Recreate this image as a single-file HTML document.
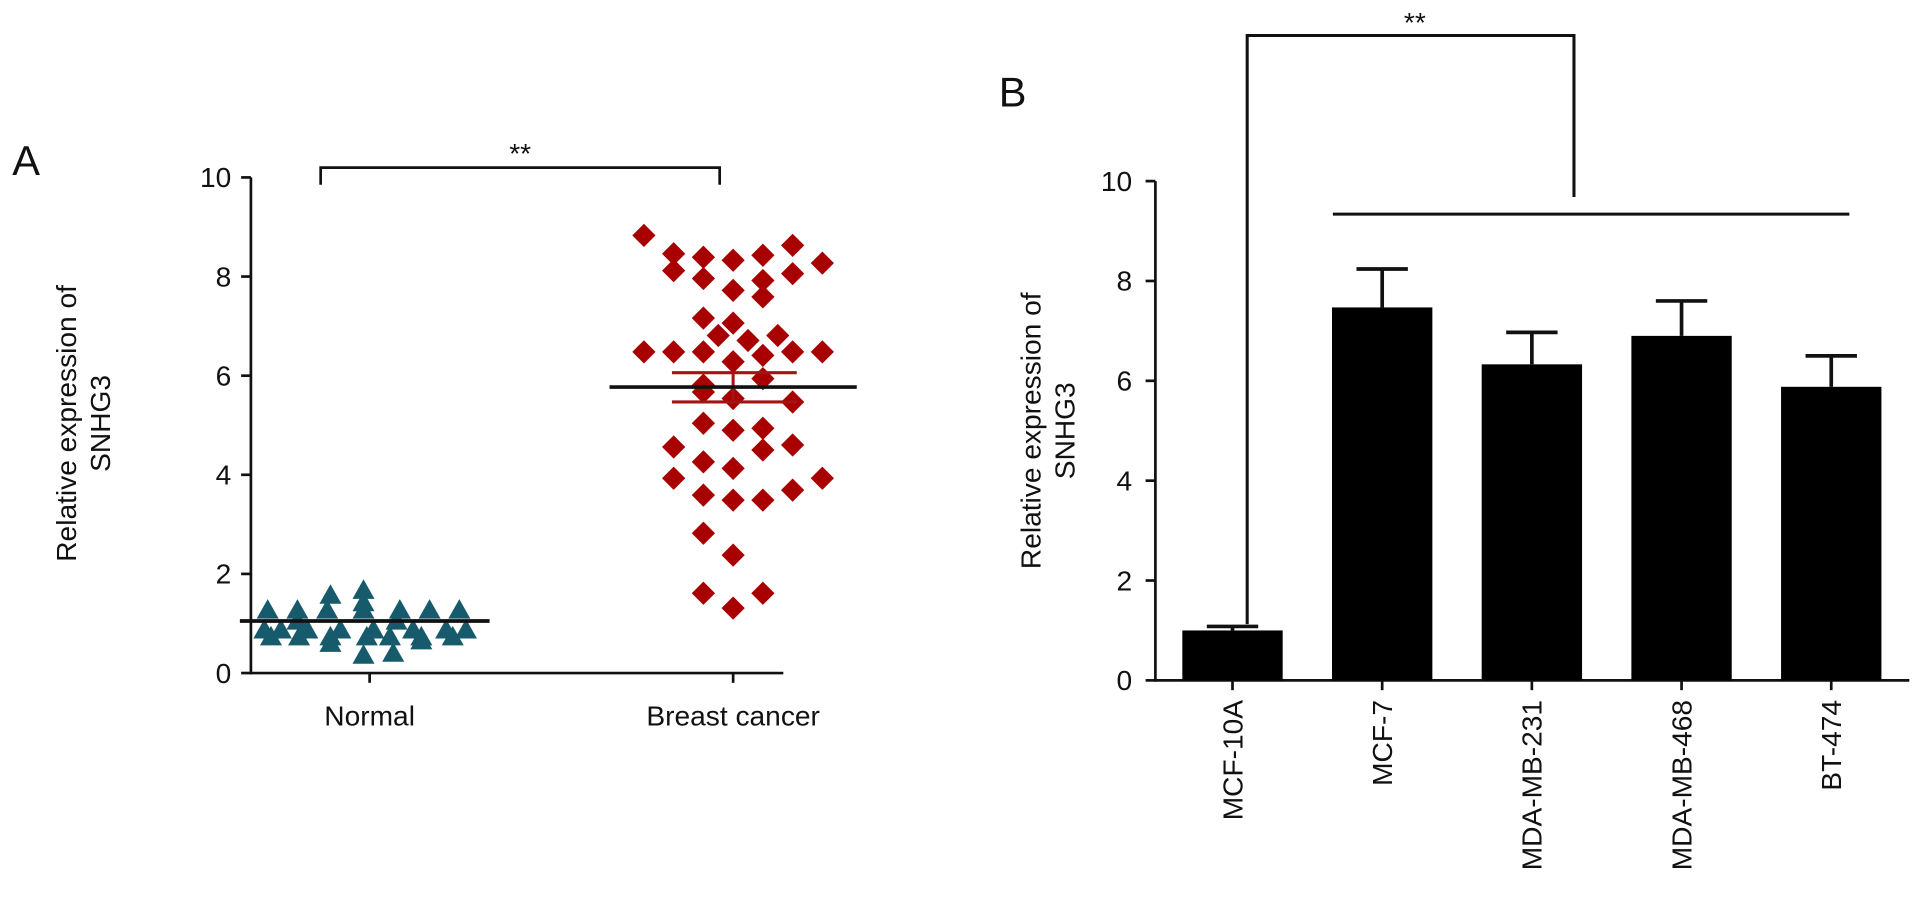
<!DOCTYPE html>
<html><head><meta charset="utf-8"><style>
html,body{margin:0;padding:0;background:#fff;}
svg{display:block;}
text{font-family:"Liberation Sans",sans-serif;fill:#111;}
</style></head><body>
<svg id="fig" width="1913" height="919" viewBox="0 0 1563 751" preserveAspectRatio="none" xmlns="http://www.w3.org/2000/svg">
<g id="panelA"></g>
<g id="panelB"></g>
</svg>
<script>
// Panel A data
const aTicks = [0, 2, 4, 6, 8, 10];
const aGroups = ["Normal", "Breast cancer"];
const normalSlots = [-5.8,-4,-2.2,0,2.2,4,5.8,-2,0,0,-6,-5,-3.4,-1.4,0.6,3,5,6.2,-5.6,-3.9,-2,0.2,1.6,3.5,5.4,-2,0,1.8,3.5,-4,2];
const normalValues = [1.27,1.27,1.27,1.27,1.27,1.27,1.27,1.57,1.67,1.42,0.87,0.87,0.87,0.87,0.87,0.87,0.87,0.87,0.73,0.73,0.73,0.73,0.73,0.73,0.73,0.6,0.36,0.4,0.65,1.05,1.05];
const normalMean = 1.05;
const cancerSlots = [-3,-3,-2,-2,-2,-2,-2,-1,-1,-1,-1,-1,-1,-1,-1,-1,-1,-1,0,0,0,0,0,0,0,0,0,0,1,1,1,1,1,1,1,1,1,2,2,2,2,2,2,3,3,3,-0.5,0.5,1.5];
const cancerValues = [8.83,6.48,8.46,8.12,6.48,4.56,3.93,8.39,7.96,7.16,6.48,5.81,5.67,5.04,4.26,3.59,2.82,1.61,8.33,7.72,7.06,6.28,5.54,4.9,4.13,3.49,2.38,1.31,8.43,7.92,7.59,6.41,5.94,4.94,4.5,3.49,1.61,8.63,8.06,6.48,5.47,4.6,3.69,8.27,6.48,3.93,6.81,6.71,6.81];
const cancerMean = 5.77, cancerSemLo = 5.47, cancerSemHi = 6.06;
// Panel B data
const bTicks = [0, 2, 4, 6, 8, 10];
const bCategories = ["MCF-10A", "MCF-7", "MDA-MB-231", "MDA-MB-468", "BT-474"];
const bValues = [1.0, 7.47, 6.33, 6.9, 5.88];
const bErrors = [0.08, 0.77, 0.64, 0.7, 0.62];

const NS = "http://www.w3.org/2000/svg";
function mk(parent, tag, attrs, txt) {
  const e = document.createElementNS(NS, tag);
  for (const k in attrs) e.setAttribute(k, attrs[k]);
  if (txt !== undefined) e.textContent = txt;
  parent.appendChild(e);
  return e;
}
const FS = 23;
// ---- Panel A ----
const A = document.getElementById('panelA');
const ayS = v => 550 - v * 40.5;
const axC = [302, 599];
let e;
e = mk(A, 'text', {x: 10, y: 143, 'font-size': 34});
e.textContent = 'A';


e = mk(A, 'line', {x1: 205, y1: ayS(10), x2: 205, y2: 551, stroke: '#111', 'stroke-width': 2.2});


e = mk(A, 'line', {x1: 204, y1: 550, x2: 640, y2: 550, stroke: '#111', 'stroke-width': 2.2});


aTicks.forEach(t => {
  mk(A, 'line', {x1: 197, y1: ayS(t), x2: 205, y2: ayS(t), stroke: '#111', 'stroke-width': 2.2});
  e = mk(A, 'text', {x: 189, y: ayS(t) + 8, 'font-size': FS, 'text-anchor': 'end'}, String(t));
  
  
});
aGroups.forEach((g, i) => {
  mk(A, 'line', {x1: axC[i], y1: 550, x2: axC[i], y2: 558, stroke: '#111', 'stroke-width': 2.2});
  e = mk(A, 'text', {x: axC[i], y: 593, 'font-size': FS, 'text-anchor': 'middle'}, g);
  
  
});
e = mk(A, 'text', {transform: 'translate(62,346) rotate(-90)', 'font-size': FS, 'text-anchor': 'middle'}, 'Relative expression of');


e = mk(A, 'text', {transform: 'translate(90,346) rotate(-90)', 'font-size': FS, 'text-anchor': 'middle'}, 'SNHG3');


// bracket
e = mk(A, 'path', {d: 'M262,151 V137 H588 V151', fill: 'none', stroke: '#111', 'stroke-width': 2.2});


e = mk(A, 'text', {x: 425, y: 133, 'font-size': FS, 'text-anchor': 'middle'}, '**');


// triangles
normalValues.forEach((v, i) => {
  const cx = axC[0] - 5 + normalSlots[i] * 13.5, cy = ayS(v);
  e = mk(A, 'polygon', {points: `${cx},${cy-9} ${cx+9},${cy+7} ${cx-9},${cy+7}`, fill: '#175a6c'});
  
  
});
e = mk(A, 'line', {x1: 196, y1: ayS(normalMean), x2: 400, y2: ayS(normalMean), stroke: '#111', 'stroke-width': 3});


// diamonds
cancerValues.forEach((v, i) => {
  const cx = 599 + cancerSlots[i] * 24.3, cy = ayS(v);
  e = mk(A, 'polygon', {points: `${cx},${cy-9.5} ${cx+9.5},${cy} ${cx},${cy+9.5} ${cx-9.5},${cy}`, fill: '#a80000'});
  
  
});
e = mk(A, 'path', {d: `M549,${ayS(cancerSemHi)} H651 M549,${ayS(cancerSemLo)} H651 M599,${ayS(cancerSemHi)} V${ayS(cancerSemLo)}`, stroke: '#a31515', 'stroke-width': 2.5, fill: 'none'});


e = mk(A, 'line', {x1: 498, y1: ayS(cancerMean), x2: 700, y2: ayS(cancerMean), stroke: '#111', 'stroke-width': 3});



// ---- Panel B ----
const B = document.getElementById('panelB');
const byS = v => 556 - v * 40.8;
const bx = i => 1007 + i * 122.3;
e = mk(B, 'text', {x: 816, y: 87, 'font-size': 34}, 'B');


e = mk(B, 'line', {x1: 944, y1: byS(10), x2: 944, y2: 557, stroke: '#111', 'stroke-width': 2.2});


e = mk(B, 'line', {x1: 943, y1: 556, x2: 1560, y2: 556, stroke: '#111', 'stroke-width': 2.2});


bTicks.forEach(t => {
  mk(B, 'line', {x1: 936, y1: byS(t), x2: 944, y2: byS(t), stroke: '#111', 'stroke-width': 2.2});
  e = mk(B, 'text', {x: 925, y: byS(t) + 8, 'font-size': FS, 'text-anchor': 'end'}, String(t));
  
  
});
e = mk(B, 'text', {transform: 'translate(850,352) rotate(-90)', 'font-size': FS, 'text-anchor': 'middle'}, 'Relative expression of');


e = mk(B, 'text', {transform: 'translate(878,352) rotate(-90)', 'font-size': FS, 'text-anchor': 'middle'}, 'SNHG3');


bCategories.forEach((c, i) => {
  const x = bx(i), top = byS(bValues[i]), et = byS(bValues[i] + bErrors[i]);
  e = mk(B, 'line', {x1: x, y1: top, x2: x, y2: et, stroke: '#111', 'stroke-width': 3});
  
  
  e = mk(B, 'line', {x1: x - 21, y1: et, x2: x + 21, y2: et, stroke: '#111', 'stroke-width': 3});
  
  
  e = mk(B, 'rect', {x: x - 41, y: top, width: 82, height: 556 - top, fill: '#000'});
  
  
  mk(B, 'line', {x1: x, y1: 556, x2: x, y2: 564, stroke: '#111', 'stroke-width': 2.2});
  e = mk(B, 'text', {transform: `translate(${x + 8},572) rotate(-90)`, 'font-size': FS, 'text-anchor': 'end'}, c);
  
  
});
e = mk(B, 'path', {d: 'M1019,510 V29 H1286 V161 M1089,175 H1511', fill: 'none', stroke: '#111', 'stroke-width': 2.5});


e = mk(B, 'text', {x: 1156, y: 26, 'font-size': FS, 'text-anchor': 'middle'}, '**');


</script>
</body></html>
